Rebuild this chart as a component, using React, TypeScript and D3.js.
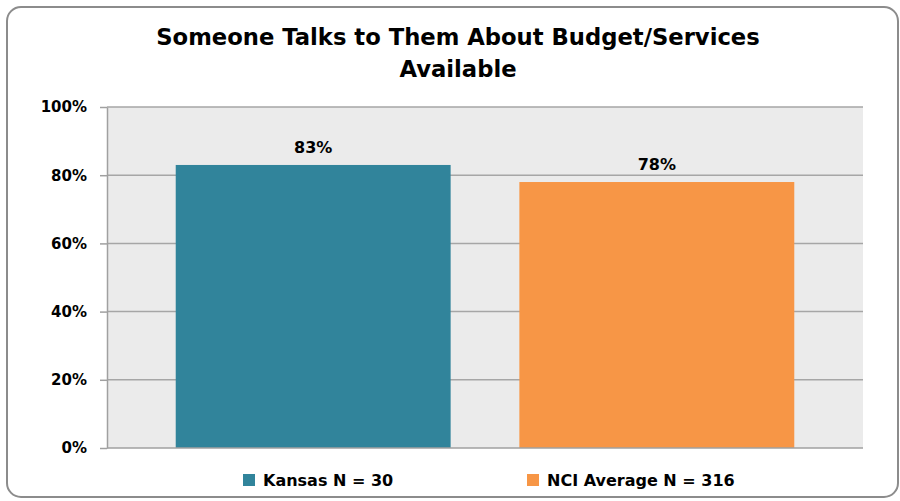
import { useEffect, useRef } from "react";
import * as d3 from "d3";

const categories = ["Kansas N = 30", "NCI Average N = 316"];
const values = [83, 78];
const colors = ["#31849b", "#f79646"];
const yTicks = [0, 20, 40, 60, 80, 100];
const titleLines = ["Someone Talks to Them About Budget/Services", "Available"];

export default function App() {
  const svgRef = useRef<SVGSVGElement | null>(null);

  useEffect(() => {
    if (!svgRef.current) return;
    const svg = d3.select(svgRef.current);
    svg.selectAll("*").remove();

    const width = 900;
    const height = 501;
    const margin = { top: 107, right: 37, bottom: 53, left: 107 };
    const innerWidth = width - margin.left - margin.right;
    const innerHeight = height - margin.top - margin.bottom;
    const font = "'DejaVu Sans', sans-serif";

    // outer frame
    svg
      .append("rect")
      .attr("x", 7)
      .attr("y", 7)
      .attr("width", 891)
      .attr("height", 490)
      .attr("rx", 14)
      .attr("fill", "#fff")
      .attr("stroke", "#8c8c8c")
      .attr("stroke-width", 2);

    svg
      .append("g")
      .selectAll("text")
      .data(titleLines)
      .join("text")
      .attr("x", 458)
      .attr("y", (_, i) => 45 + i * 32)
      .attr("text-anchor", "middle")
      .attr("font-family", font)
      .attr("font-weight", 700)
      .attr("font-size", 22.7)
      .attr("fill", "#000")
      .text((d) => d);

    const root = svg.append("g").attr("transform", `translate(${margin.left},${margin.top})`);

    const x = d3.scaleBand().domain(categories).range([0, innerWidth]).padding(0.2);
    const y = d3.scaleLinear().domain([0, 100]).range([innerHeight, 0]);

    root
      .append("rect")
      .attr("width", innerWidth)
      .attr("height", innerHeight)
      .attr("fill", "#ebebeb");

    root
      .append("g")
      .selectAll("line")
      .data(yTicks.filter((t) => t > 0))
      .join("line")
      .attr("x1", 0)
      .attr("x2", innerWidth)
      .attr("y1", (d) => y(d))
      .attr("y2", (d) => y(d))
      .attr("stroke", "#a6a6a6")
      .attr("stroke-width", 1.5);

    const yAxis = root
      .append("g")
      .call(
        d3
          .axisLeft(y)
          .tickValues(yTicks)
          .tickSize(7)
          .tickSizeOuter(0)
          .tickPadding(13)
          .tickFormat((d) => `${d}%`),
      );
    yAxis.selectAll("line,path").attr("stroke", "#a0a0a0").attr("stroke-width", 1.5);
    yAxis
      .selectAll("text")
      .attr("fill", "#000")
      .attr("font-family", font)
      .attr("font-weight", 700)
      .attr("font-size", 15);

    root
      .selectAll("rect.bar")
      .data(categories)
      .join("rect")
      .attr("class", "bar")
      .attr("x", (d) => x(d) ?? 0)
      .attr("width", x.bandwidth())
      .attr("y", (_, i) => y(values[i]))
      .attr("height", (_, i) => innerHeight - y(values[i]))
      .attr("fill", (_, i) => colors[i]);

    root
      .selectAll("text.value")
      .data(categories)
      .join("text")
      .attr("class", "value")
      .attr("x", (d) => (x(d) ?? 0) + x.bandwidth() / 2)
      .attr("y", (_, i) => y(values[i]) - 12)
      .attr("text-anchor", "middle")
      .attr("font-family", font)
      .attr("font-weight", 700)
      .attr("font-size", 16)
      .attr("fill", "#000")
      .text((_, i) => `${values[i]}%`);

    // x baseline
    root
      .append("line")
      .attr("x1", 0)
      .attr("x2", innerWidth)
      .attr("y1", innerHeight)
      .attr("y2", innerHeight)
      .attr("stroke", "#a0a0a0")
      .attr("stroke-width", 1.5);

    // legend
    const legendX = [243, 527];
    const legend = svg
      .append("g")
      .selectAll("g")
      .data(categories)
      .join("g")
      .attr("transform", (_, i) => `translate(${legendX[i]},474)`);
    legend
      .append("rect")
      .attr("width", 12)
      .attr("height", 12)
      .attr("fill", (_, i) => colors[i]);
    legend
      .append("text")
      .attr("x", 20)
      .attr("y", 12)
      .attr("font-family", font)
      .attr("font-weight", 700)
      .attr("font-size", 16)
      .attr("fill", "#000")
      .text((d) => d);
  }, []);

  return (
    <svg
      ref={svgRef}
      width={900}
      height={501}
      style={{ position: "absolute", left: 0, top: 0 }}
    />
  );
}
